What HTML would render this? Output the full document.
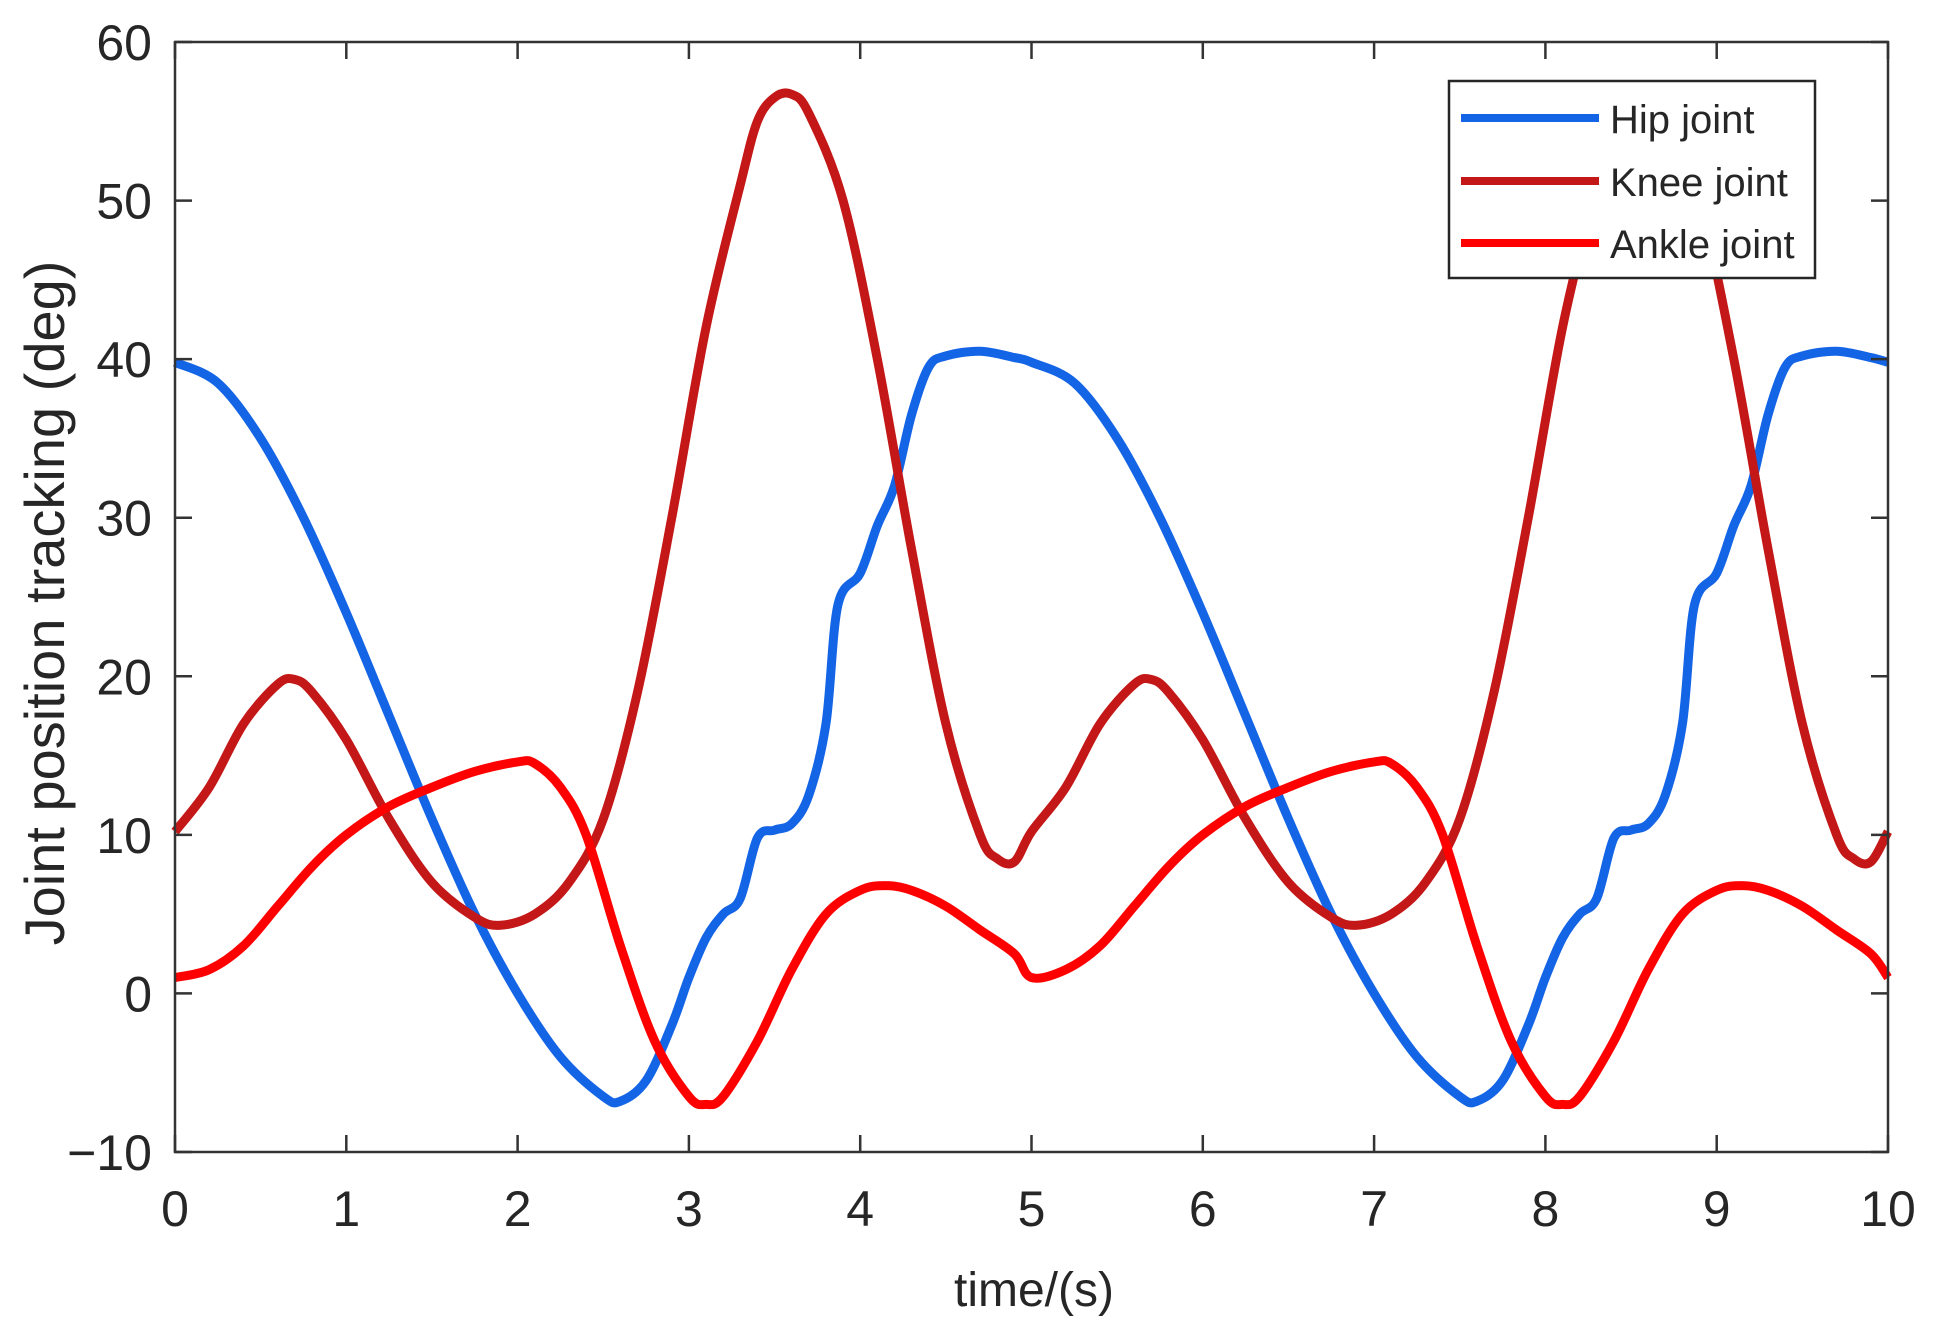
<!DOCTYPE html>
<html><head><meta charset="utf-8"><style>
html,body{margin:0;padding:0;background:#fff;}
svg{display:block;}
text{font-family:"Liberation Sans",Arial,sans-serif;fill:#262626;}
</style></head><body>
<svg id="s" width="1941" height="1342" viewBox="0 0 1941 1342" xmlns="http://www.w3.org/2000/svg">
<g id="plot"></g>
<g id="axes"></g>
<text x="1034" y="1306" font-size="48" text-anchor="middle">time/(s)</text>
<text transform="translate(64,603) rotate(-90)" font-size="56" text-anchor="middle">Joint position tracking (deg)</text>
<rect x="1449" y="81" width="366" height="197" fill="#fff" stroke="#262626" stroke-width="2.5"/>
<line x1="1461" y1="118" x2="1599" y2="118" stroke="#1464e6" stroke-width="8"/>
<line x1="1461" y1="181" x2="1599" y2="181" stroke="#c41717" stroke-width="8"/>
<line x1="1461" y1="243" x2="1599" y2="243" stroke="#ff0000" stroke-width="8"/>
<text x="1610" y="133" font-size="40">Hip joint</text>
<text x="1610" y="196" font-size="40">Knee joint</text>
<text x="1610" y="258" font-size="40">Ankle joint</text>
</svg>
<script>
var L=175,R=1888,T=42,B=1152;
function X(t){return L+(R-L)*t/10;}
function Y(v){return B-(B-T)*(v+10)/70;}
var ns="http://www.w3.org/2000/svg";
function el(p,tag,a){var e=document.createElementNS(ns,tag);for(var k in a)e.setAttribute(k,a[k]);p.appendChild(e);return e;}
var hip=[[0,39.8],[0.25,38.5],[0.5,35],[0.75,30],[1,24],[1.25,17.5],[1.5,11],[1.75,5],[2,0],[2.25,-4],[2.5,-6.5],[2.6,-6.8],[2.75,-5.5],[2.9,-2],[3,1],[3.1,3.5],[3.2,5],[3.3,6],[3.4,9.8],[3.5,10.3],[3.6,10.7],[3.7,12.5],[3.8,17],[3.87,24.5],[4,26.5],[4.1,29.5],[4.2,32],[4.3,36.5],[4.4,39.5],[4.5,40.2],[4.7,40.5],[4.9,40.1]];
var knee=[[0,10.2],[0.2,13],[0.4,17],[0.6,19.5],[0.7,19.8],[0.8,19],[1,16],[1.25,11],[1.5,7],[1.75,4.8],[1.9,4.3],[2.1,5],[2.3,7],[2.5,11],[2.7,19],[2.9,30],[3.1,42],[3.3,51],[3.4,55],[3.5,56.5],[3.6,56.7],[3.7,55.5],[3.9,50],[4.1,40],[4.3,28],[4.5,17],[4.7,10],[4.8,8.5],[4.9,8.3]];
var ankle=[[0,1],[0.2,1.5],[0.4,3],[0.6,5.5],[0.8,8],[1,10],[1.25,11.8],[1.5,13],[1.75,14],[2,14.6],[2.1,14.5],[2.25,13],[2.4,10],[2.6,3],[2.8,-3],[3,-6.5],[3.1,-7],[3.2,-6.5],[3.4,-3],[3.6,1.5],[3.8,5],[4,6.5],[4.15,6.8],[4.3,6.5],[4.5,5.5],[4.7,4],[4.9,2.5]];
function per(a,end){var o=a.slice();a.forEach(function(p){o.push([p[0]+5,p[1]]);});o.push([10,end]);return o;}
function path(pts){var P=pts.map(function(p){return [X(p[0]),Y(p[1])];});var d="M"+P[0][0]+","+P[0][1];
for(var i=0;i<P.length-1;i++){var p0=P[i-1]||P[i],p1=P[i],p2=P[i+1],p3=P[i+2]||P[i+1];
d+=" C"+(p1[0]+(p2[0]-p0[0])/6)+","+(p1[1]+(p2[1]-p0[1])/6)+" "+(p2[0]-(p3[0]-p1[0])/6)+","+(p2[1]-(p3[1]-p1[1])/6)+" "+p2[0]+","+p2[1];}return d;}
var g=document.getElementById("plot");
el(g,"path",{d:path(per(hip,39.8)),fill:"none",stroke:"#1464e6","stroke-width":9,"stroke-linejoin":"round"});
el(g,"path",{d:path(per(knee,10.2)),fill:"none",stroke:"#c41717","stroke-width":9,"stroke-linejoin":"round"});
el(g,"path",{d:path(per(ankle,1)),fill:"none",stroke:"#ff0000","stroke-width":9,"stroke-linejoin":"round"});
var a=document.getElementById("axes");
el(a,"rect",{x:L,y:T,width:R-L,height:B-T,fill:"none",stroke:"#333","stroke-width":2.5});
for(var t=0;t<=10;t++){var x=X(t);
el(a,"line",{x1:x,y1:B,x2:x,y2:B-17,stroke:"#333","stroke-width":2.5});
el(a,"line",{x1:x,y1:T,x2:x,y2:T+17,stroke:"#333","stroke-width":2.5});
var tx=el(a,"text",{x:x,y:1226,"font-size":50,"text-anchor":"middle"});tx.textContent=t;}
for(var v=-10;v<=60;v+=10){var y=Y(v);
el(a,"line",{x1:L,y1:y,x2:L+17,y2:y,stroke:"#333","stroke-width":2.5});
el(a,"line",{x1:R,y1:y,x2:R-17,y2:y,stroke:"#333","stroke-width":2.5});
var ty=el(a,"text",{x:152,y:y+18,"font-size":50,"text-anchor":"end"});ty.textContent=(v<0?"\u2212"+(-v):v);}
</script>
</body></html>
